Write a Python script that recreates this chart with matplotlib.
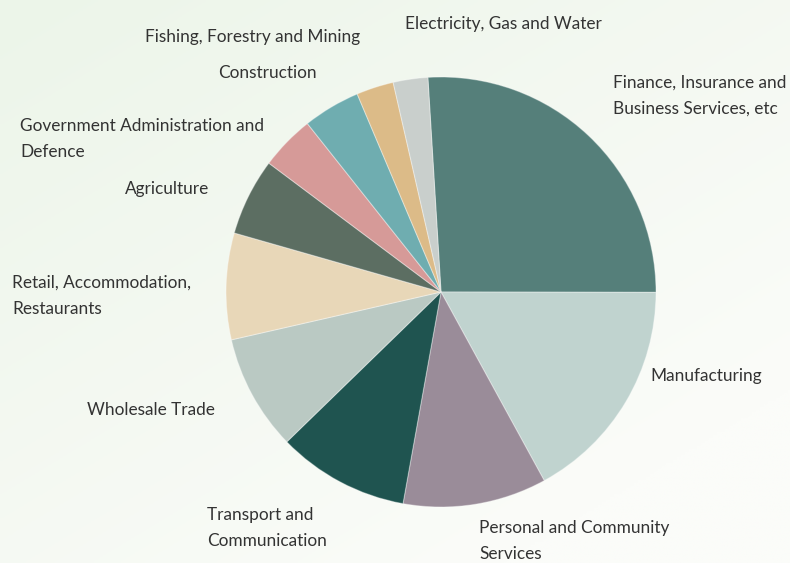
import numpy as np
import matplotlib.pyplot as plt

# industry shares (%), clockwise from the top
industries = ['Finance, Insurance and\nBusiness Services, etc', 'Manufacturing',
              'Personal and Community\nServices', 'Transport and\nCommunication',
              'Wholesale Trade', 'Retail, Accommodation,\nRestaurants', 'Agriculture',
              'Government Administration and\nDefence', 'Construction',
              'Fishing, Forestry and Mining', 'Electricity, Gas and Water']
shares = [26.0, 17.0, 10.8, 9.9, 8.7, 8.0, 5.8, 4.1, 4.3, 2.8, 2.6]
colors = ['#557f7a', '#c0d3cf', '#9a8c99', '#1f5450', '#bac9c3', '#e8d7b8',
          '#5c6e62', '#d69a98', '#6fadb0', '#dcbb88', '#c9cfcc']

# label anchors (figure pixels: left x, centre y from top)
label_pos = [(613, 96), (650, 376), (479, 541), (207, 528), (87, 410), (12, 296),
             (125, 189), (20, 139), (218, 73), (145, 37), (405, 24)]

W, H = 790, 563
fig = plt.figure(figsize=(W / 100, H / 100), dpi=100)

# soft green background
bg = fig.add_axes([0, 0, 1, 1])
yy, xx = np.mgrid[0:1:200j, 0:1:200j]
t = np.clip(0.55 * xx + 0.65 * yy, 0, 1)
c0 = np.array([236, 245, 233]) / 255
c1 = np.array([251, 252, 249]) / 255
img = c0 * (1 - t[..., None]) + c1 * t[..., None]
bg.imshow(img, extent=[0, 1, 0, 1], aspect='auto', origin='upper')
bg.axis('off')

# pie
cx, cy, r = 441, 292, 215
ax = fig.add_axes([(cx - r) / W, (H - cy - r) / H, 2 * r / W, 2 * r / H])
ax.pie(shares, colors=colors, startangle=93.5, counterclock=False, radius=1,
       wedgeprops=dict(edgecolor=(1, 1, 1, 0.35), linewidth=0.8))
ax.set_xlim(-1, 1)
ax.set_ylim(-1, 1)
ax.axis('off')

for name, (px, py) in zip(industries, label_pos):
    fig.text(px / W, 1 - py / H, name, ha='left', va='center', fontsize=12.4,
             family='Lato', color='#333333', linespacing=1.75)

fig.savefig('out.png', dpi=100)
